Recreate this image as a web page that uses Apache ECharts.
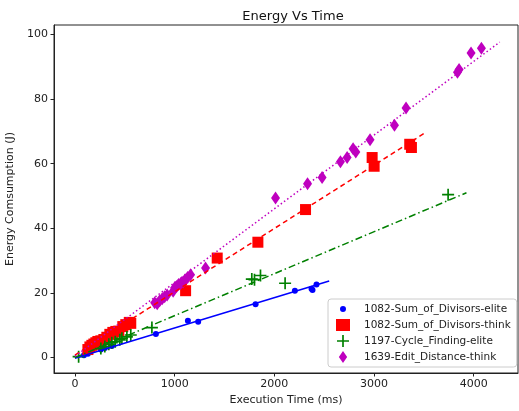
<!DOCTYPE html>
<html>
<head>
<meta charset="utf-8">
<script src="https://cdn.jsdelivr.net/npm/echarts@6/dist/echarts.min.js"></script>
<style>
html, body { margin: 0; padding: 0; background: #fff; }
#main { width: 519px; height: 411px; }
</style>
</head>
<body>
<div id="main"></div>
<script>
// scatter points: [time ms, energy J]
var sumElite = [[90, 0.7], [130, 1.2], [260, 2.5], [300, 3.0], [370, 3.6], [812, 7.3], [1133, 11.4], [1236, 11.1],
    [1812, 16.5], [2206, 20.7], [2373, 21.3], [2383, 20.9], [2423, 22.6]];
var sumThink = [[130, 2.5], [150, 3.3], [170, 3.8], [190, 4.2], [210, 4.6], [230, 5.0], [260, 5.2], [290, 5.6],
    [320, 6.3], [350, 7.2], [380, 7.8], [410, 8.1], [440, 8.2], [480, 9.6], [510, 10.2], [545, 10.9], [560, 10.6],
    [1110, 20.7], [1427, 30.8], [1835, 35.7], [2313, 45.8], [2981, 61.9], [3001, 59.2], [3358, 66.0], [3375, 65.0]];
var cycleElite = [[37, 0.3], [260, 2.8], [300, 3.4], [340, 4.1], [370, 4.6], [404, 4.9], [450, 5.5], [471, 6.0],
    [521, 6.4], [560, 7.0], [772, 9.3], [1774, 24.3], [1801, 24.1], [1861, 25.4], [2108, 23.0], [3743, 50.4]];
var editThink = [[800, 17.0], [825, 16.7], [850, 17.6], [875, 18.2], [900, 18.8], [925, 19.4], [985, 20.5],
    [1000, 21.6], [1020, 22.0], [1040, 22.6], [1060, 22.9], [1085, 23.4], [1105, 24.1], [1130, 24.8], [1160, 25.6],
    [1310, 27.7], [2012, 49.4], [2333, 53.8], [2479, 55.7], [2663, 60.6], [2730, 61.9], [2790, 64.6], [2817, 63.6],
    [2960, 67.4], [3205, 71.9], [3321, 77.2], [3837, 88.3], [3853, 89.1], [3973, 94.2], [4077, 95.7]];

// trend line end points
var sumEliteFit = [[0, -0.2], [2550, 23.7]];
var sumThinkFit = [[0, 0.8], [3525, 69.8]];
var cycleEliteFit = [[0, 0.0], [3927, 51.0]];
var editThinkFit = [[0, 0.4], [4261, 97.6]];

var names = ['1082-Sum_of_Divisors-elite', '1082-Sum_of_Divisors-think', '1197-Cycle_Finding-elite', '1639-Edit_Distance-think'];
var xTicks = [0, 1000, 2000, 3000, 4000];
var yTicks = [0, 20, 40, 60, 80, 100];

var font = 'DejaVu Sans';
var plus = 'path://M4.3,0H5.7V4.3H10V5.7H5.7V10H4.3V5.7H0V4.3H4.3Z';
// legend icons padded with tiny corner specks so they keep the plot's marker size
var smallDot = 'path://M0,0L0.01,0L0,0.01ZM12,12L11.99,12L12,11.99ZM9,6A3,3 0 1 1 3,6A3,3 0 1 1 9,6Z';
var thinDiamond = 'path://M0,0L0.01,0L0,0.01ZM13,13L12.99,13L13,12.99ZM6.5,0L11,6.5L6.5,13L2,6.5Z';

var myChart = echarts.init(document.getElementById('main'));

function fitLine(name, data, color, type) {
    return {
        name: name,
        type: 'line',
        data: data,
        showSymbol: false,
        silent: true,
        lineStyle: { color: color, width: 1.5, type: type }
    };
}

var option = {
    animation: false,
    textStyle: { fontFamily: font },
    title: {
        text: 'Energy Vs Time',
        left: 288,
        top: 5,
        textAlign: 'center',
        textStyle: { fontFamily: font, fontSize: 13, fontWeight: 'normal', color: '#111' }
    },
    grid: {
        left: 54, right: 1, top: 25, bottom: 38,
        containLabel: false,
        outerBoundsMode: 'none',
        show: true, borderColor: '#222', borderWidth: 1
    },
    legend: {
        orient: 'vertical',
        left: 328,
        top: 299,
        data: [
            { name: names[0], icon: smallDot },
            names[1],
            names[2],
            { name: names[3], icon: thinDiamond }
        ],
        padding: [4, 6, 4, 8],
        itemGap: 4,
        itemWidth: 14,
        itemHeight: 12,
        backgroundColor: '#fff',
        borderColor: '#ccc',
        borderWidth: 1,
        borderRadius: 3,
        textStyle: { fontFamily: font, fontSize: 10.5, color: '#222', lineHeight: 12, padding: [0, 0, 0, 9] }
    },
    xAxis: {
        type: 'value',
        min: -210,
        max: 4444,
        name: 'Execution Time (ms)',
        nameLocation: 'middle',
        nameGap: 22,
        nameTextStyle: { fontFamily: font, fontSize: 11, color: '#222' },
        splitLine: { show: false },
        axisLine: { onZero: false, lineStyle: { color: '#222' } },
        axisTick: { customValues: xTicks, length: 3.5, lineStyle: { color: '#222' } },
        axisLabel: {
            customValues: xTicks, fontSize: 11, color: '#222', margin: 6,
            formatter: function (v) { return String(v); }
        }
    },
    yAxis: {
        type: 'value',
        min: -4.76,
        max: 102.9,
        name: 'Energy Comsumption (J)',
        nameLocation: 'middle',
        nameGap: 33,
        nameTextStyle: { fontFamily: font, fontSize: 11, color: '#222' },
        splitLine: { show: false },
        axisLine: { onZero: false, lineStyle: { color: '#222' } },
        axisTick: { customValues: yTicks, length: 3.5, lineStyle: { color: '#222' } },
        axisLabel: {
            customValues: yTicks, fontSize: 11, color: '#222', margin: 6,
            formatter: function (v) { return String(v); }
        }
    },
    series: [
        {
            name: names[0], type: 'scatter', data: sumElite,
            symbol: 'circle', symbolSize: 6,
            itemStyle: { color: '#0000ff', opacity: 1 }
        },
        fitLine('fitA', sumEliteFit, '#0000ff', 'solid'),
        {
            name: names[1], type: 'scatter', data: sumThink,
            symbol: 'rect', symbolSize: 11,
            itemStyle: { color: '#ff0000', opacity: 1 }
        },
        fitLine('fitB', sumThinkFit, '#ff0000', [5, 3.5]),
        {
            name: names[2], type: 'scatter', data: cycleElite,
            symbol: plus, symbolSize: 12,
            itemStyle: { color: '#008000', opacity: 1 }
        },
        fitLine('fitC', cycleEliteFit, '#008000', [7, 3, 1.5, 3]),
        {
            name: names[3], type: 'scatter', data: editThink,
            symbol: 'diamond', symbolSize: [9, 13],
            itemStyle: { color: '#bf00bf', opacity: 1 }
        },
        fitLine('fitD', editThinkFit, '#bf00bf', [1.5, 2.5])
    ]
};

myChart.setOption(option);
</script>
</body>
</html>
